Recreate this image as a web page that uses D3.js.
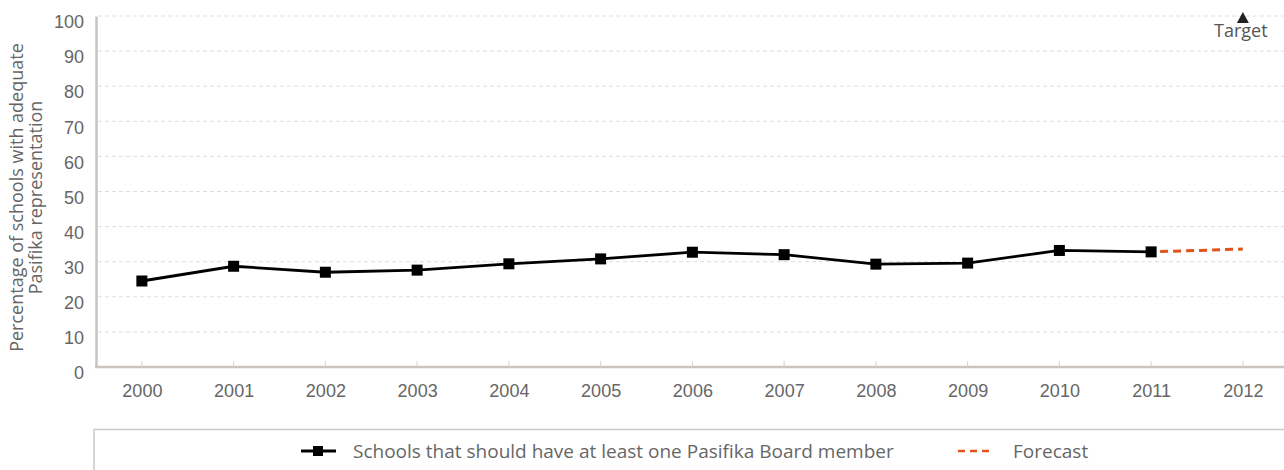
<!DOCTYPE html>
<html>
<head>
<meta charset="utf-8">
<script src="https://cdn.jsdelivr.net/npm/d3@7"></script>
<style>
  html, body { margin: 0; padding: 0; background: #fff; }
  svg { display: block; font-family: "Open Sans", "Noto Sans", sans-serif; }
</style>
</head>
<body>
<svg id="chart" width="1284" height="470"></svg>
<script>
// Years on the x axis
const years = ["2000", "2001", "2002", "2003", "2004", "2005", "2006",
               "2007", "2008", "2009", "2010", "2011", "2012"];
// Schools that should have at least one Pasifika Board member (%)
const actualYears = ["2000", "2001", "2002", "2003", "2004", "2005",
                     "2006", "2007", "2008", "2009", "2010", "2011"];
const actualValues = [24.5, 28.7, 27.0, 27.6, 29.4, 30.8, 32.7, 32.0, 29.3, 29.6, 33.2, 32.8];
// Forecast from the last observed year to 2012
const forecastYears = ["2011", "2012"];
const forecastValues = [32.8, 33.6];
// Target marker
const targetYear = "2012";
const targetValue = 100;
const yTicks = [0, 10, 20, 30, 40, 50, 60, 70, 80, 90, 100];

const svg = d3.select("#chart");
const plotLeft = 96, plotTop = 16, plotBottom = 367;
const step = 91.75;

const x = d3.scalePoint()
  .domain(years)
  .range([plotLeft + step / 2, plotLeft + step / 2 + step * (years.length - 1)]);
const y = d3.scaleLinear().domain([0, 100]).range([plotBottom, plotTop]);

const axisColor = "#c9c4bd";
const textColor = "#666";

// Horizontal dashed gridlines
svg.append("g")
  .selectAll("line")
  .data(yTicks.filter(d => d > 0))
  .join("line")
  .attr("x1", plotLeft + 2).attr("x2", 1284)
  .attr("y1", d => y(d)).attr("y2", d => y(d))
  .attr("stroke", "#dedede").attr("stroke-width", 1)
  .attr("stroke-dasharray", "4,3");

// Y axis (labels sit slightly below their gridlines)
const yAxis = svg.append("g")
  .attr("transform", `translate(${plotLeft},0)`)
  .call(d3.axisLeft(y).tickValues(yTicks).tickSize(0).tickPadding(12));
yAxis.select(".domain").attr("stroke", axisColor).attr("stroke-width", 2.5);
yAxis.selectAll("text").attr("fill", textColor).attr("font-size", 18)
  .attr("dy", "0.32em").attr("y", 6);

// X axis
const xAxis = svg.append("g")
  .attr("transform", `translate(0,${plotBottom})`)
  .call(d3.axisBottom(x).tickSize(0).tickPadding(17));
xAxis.select(".domain").remove();
svg.append("line")
  .attr("x1", plotLeft - 1).attr("x2", 1284)
  .attr("y1", plotBottom).attr("y2", plotBottom)
  .attr("stroke", axisColor).attr("stroke-width", 2.5);
xAxis.selectAll("text").attr("fill", textColor).attr("font-size", 18);
// Small inner tick marks
svg.append("g")
  .selectAll("line")
  .data(years)
  .join("line")
  .attr("x1", d => x(d)).attr("x2", d => x(d))
  .attr("y1", plotBottom - 6).attr("y2", plotBottom)
  .attr("stroke", "#d6d2cc").attr("stroke-width", 1);

// Y axis title
const yTitle = svg.append("text")
  .attr("transform", `translate(23,${(plotTop + plotBottom) / 2 + 6}) rotate(-90)`)
  .attr("text-anchor", "middle")
  .attr("fill", textColor)
  .attr("font-size", 18);
yTitle.append("tspan").attr("x", 0).attr("dy", 0).text("Percentage of schools with adequate");
yTitle.append("tspan").attr("x", 0).attr("dy", 19).text("Pasifika representation");

// Forecast line
const line = d3.line().x(d => x(d[0])).y(d => y(d[1]));
svg.append("path")
  .datum(d3.zip(forecastYears, forecastValues))
  .attr("d", line)
  .attr("fill", "none")
  .attr("stroke", "#e0531b")
  .attr("stroke-width", 3)
  .attr("stroke-dasharray", "8,5")
  .attr("stroke-dashoffset", -9);

// Actual series
svg.append("path")
  .datum(d3.zip(actualYears, actualValues))
  .attr("d", line)
  .attr("fill", "none")
  .attr("stroke", "#000")
  .attr("stroke-width", 2.8);
svg.append("g")
  .selectAll("rect")
  .data(d3.zip(actualYears, actualValues))
  .join("rect")
  .attr("x", d => x(d[0]) - 5.5).attr("y", d => y(d[1]) - 5.5)
  .attr("width", 11).attr("height", 11)
  .attr("fill", "#000");

// Target marker
const tx = x(targetYear), ty = y(targetValue);
svg.append("path")
  .attr("d", `M${tx},${ty - 4}L${tx + 6},${ty + 7}L${tx - 6},${ty + 7}Z`)
  .attr("fill", "#222");
svg.append("text")
  .attr("x", tx - 2).attr("y", ty + 21)
  .attr("text-anchor", "middle")
  .attr("fill", "#555")
  .attr("font-size", 18)
  .text("Target");

// Legend
svg.append("rect")
  .attr("x", 94).attr("y", 429.5)
  .attr("width", 1300).attr("height", 80)
  .attr("fill", "#fff")
  .attr("stroke", "#cdc8c1").attr("stroke-width", 1.5);
const ly = 451;
svg.append("line")
  .attr("x1", 301).attr("x2", 336).attr("y1", ly).attr("y2", ly)
  .attr("stroke", "#000").attr("stroke-width", 3);
svg.append("rect")
  .attr("x", 313).attr("y", ly - 5).attr("width", 10).attr("height", 10)
  .attr("fill", "#000");
svg.append("text")
  .attr("x", 353).attr("y", ly + 7)
  .attr("fill", textColor).attr("font-size", 19)
  .text("Schools that should have at least one Pasifika Board member");
svg.append("line")
  .attr("x1", 958).attr("x2", 991).attr("y1", ly).attr("y2", ly)
  .attr("stroke", "#e0531b").attr("stroke-width", 2.5)
  .attr("stroke-dasharray", "7,5");
svg.append("text")
  .attr("x", 1013).attr("y", ly + 7)
  .attr("fill", textColor).attr("font-size", 19)
  .text("Forecast");
</script>
</body>
</html>
